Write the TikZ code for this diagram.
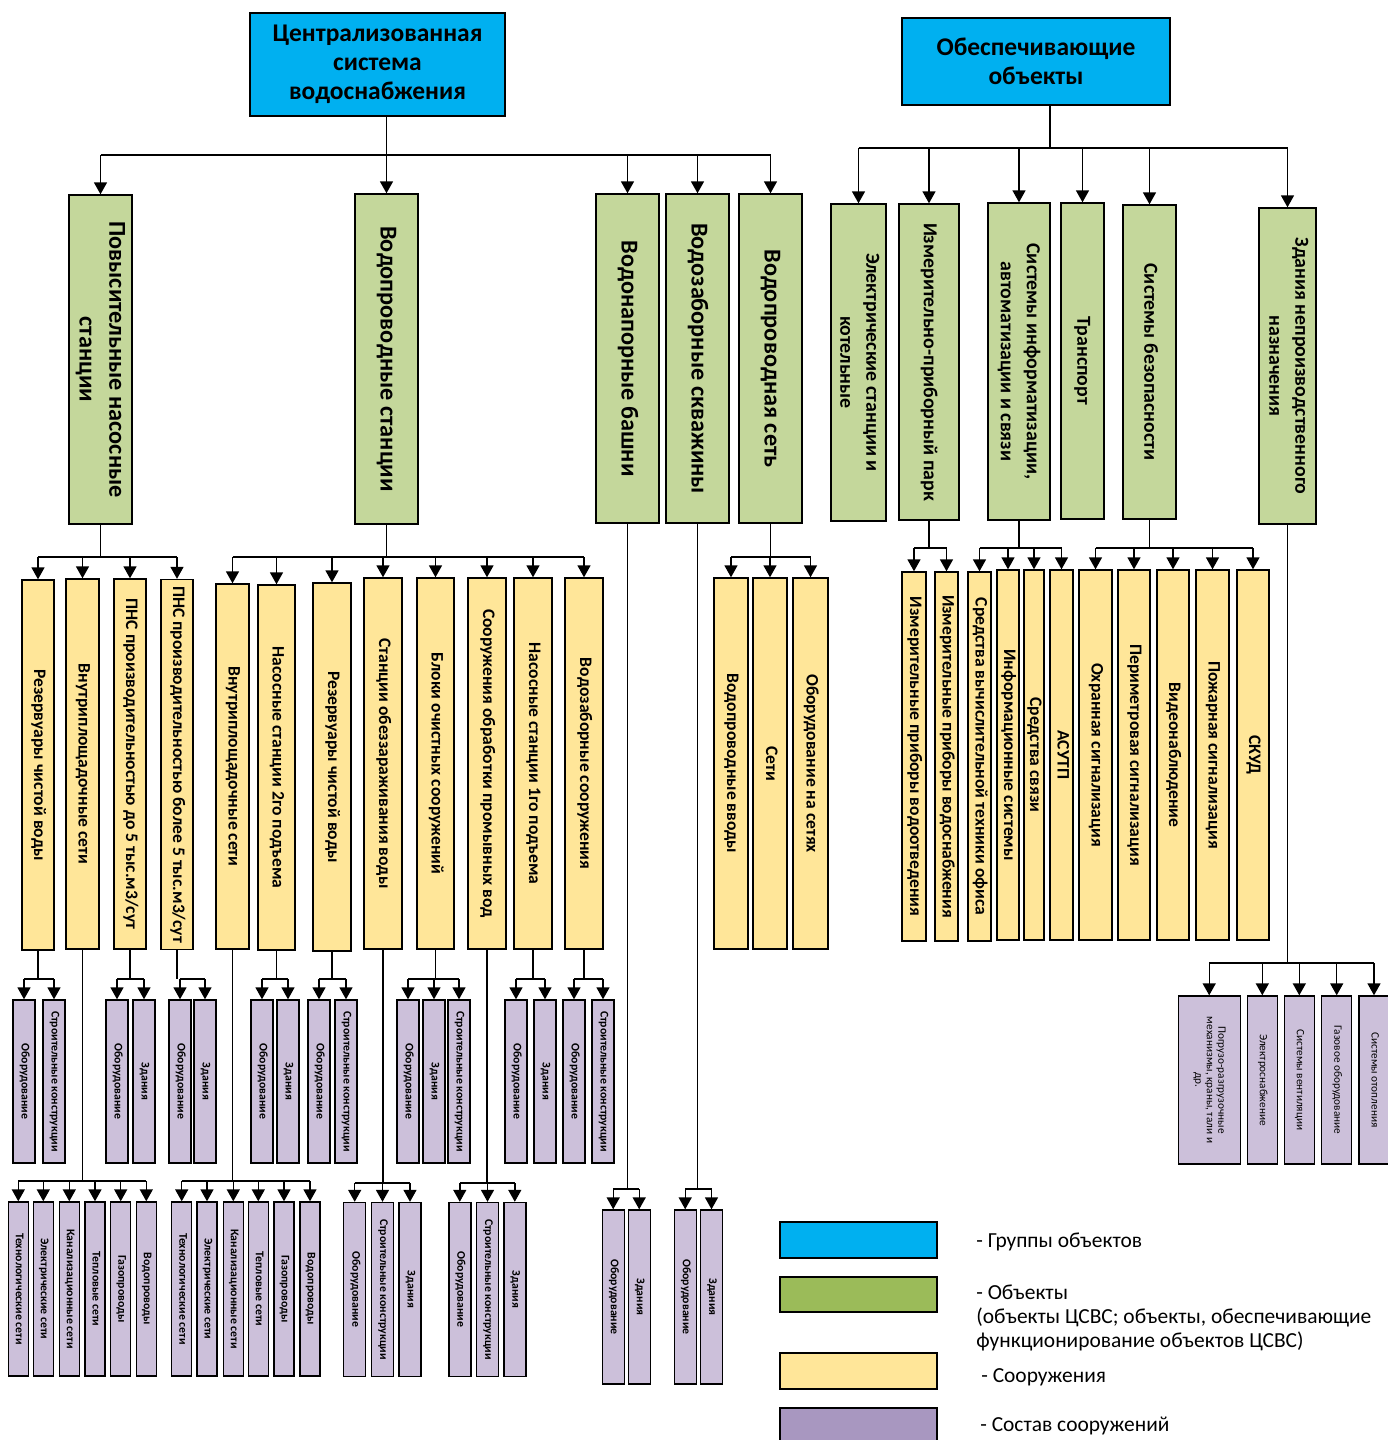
\documentclass[tikz,border=0pt]{standalone}
\usepackage{fontspec}
\setmainfont{Carlito}
\usetikzlibrary{arrows.meta}

\definecolor{grpblue}{HTML}{00B0F0}
\definecolor{objgreen}{HTML}{C4D79B}
\definecolor{soryellow}{HTML}{FFE699}
\definecolor{sostlilac}{HTML}{CCC0DA}
\definecolor{lggreen}{HTML}{9BBB59}
\definecolor{lglilac}{HTML}{A897C0}

\newcommand{\vt}[1]{\rotatebox{-90}{\begin{tabular}{@{}c@{}}#1\end{tabular}}}

\tikzset{
  box/.style={draw=black, line width=0.8pt, inner sep=0pt, rectangle},
  sz/.style 2 args={minimum width=#1*0.02cm, minimum height=#2*0.02cm},
  grp/.style={box, fill=grpblue, align=center, font=\bfseries\fontsize{14.5}{16.4}\selectfont},
  obj/.style={box, fill=objgreen, font=\bfseries\fontsize{13.8}{17}\selectfont},
  objr/.style={box, fill=objgreen, font=\bfseries\fontsize{11.3}{14.7}\selectfont},
  sor/.style={box, fill=soryellow, font=\bfseries\fontsize{10}{11}\selectfont},
  sost/.style={box, fill=sostlilac, font=\bfseries\fontsize{6.7}{6.8}\selectfont},
  sostr/.style={box, fill=sostlilac, font=\fontsize{6.4}{6.6}\selectfont},
  ln/.style={line width=0.8pt},
  arr/.style={ln, -{Triangle[width=7.4pt,length=6.8pt]}},
  lgtext/.style={anchor=west, inner sep=0pt, align=left, font=\fontsize{12.2}{13.9}\selectfont},
}

\begin{document}
\begin{tikzpicture}[x=0.02cm, y=-0.02cm]
\useasboundingbox (0,0) rectangle (1388,1440);

% groups
\node[grp, sz={255}{103}] (csv) at (377.5,64.5) {Централизованная\\система\\водоснабжения};
\node[grp, sz={268}{87}]  (ob)  at (1036,61.5)  {Обеспечивающие\\объекты};

% objects
\node[obj, sz={63}{329}] (pns)  at (100.5,359.5) {\vt{Повысительные насосные\\станции}};
\node[obj, sz={63}{330}] (vps)  at (386.5,359)   {\vt{Водопроводные станции}};
\node[obj, sz={63}{329}] (vb)   at (627.5,358.5) {\vt{Водонапорные башни}};
\node[obj, sz={63}{329}] (vsk)  at (697.5,358.5) {\vt{Водозаборные скважины}};
\node[obj, sz={63}{329}] (vset) at (770.5,358.5) {\vt{Водопроводная сеть}};

\node[objr, sz={55}{317}] (ek)  at (858.5,362.5) {\vt{Электрические станции и\\котельные}};
\node[objr, sz={60}{316}] (ipp) at (929,362)     {\vt{Измерительно-приборный парк}};
\node[objr, sz={62}{317}] (sia) at (1019,361.5)  {\vt{Системы информатизации,\\автоматизации и связи}};
\node[objr, sz={43}{316}] (tr)  at (1082.5,361)  {\vt{Транспорт}};
\node[objr, sz={53}{314}] (sb)  at (1149.5,362)  {\vt{Системы безопасности}};
\node[objr, sz={57}{316}] (zn)  at (1287.5,366)  {\vt{Здания непроизводственного\\назначения}};

\coordinate (bT) at (0,155);
\coordinate (bTR) at (1050,148);
\draw[ln] (csv.south -| vps.north) -- (vps.north |- bT);
\draw[ln] (pns.north |- bT) -- (vset.north |- bT);
\foreach \n in {pns,vps,vb,vsk,vset} \draw[arr] (\n.north |- bT) -- (\n.north);
\draw[ln] (ob.south -| bTR) -- (bTR);
\draw[ln] (ek.north |- bTR) -- (zn.north |- bTR);
\foreach \n in {ek,ipp,sia,tr,sb,zn} \draw[arr] (\n.north |- bTR) -- (\n.north);

% structures
\node[sor, sz={32}{370}] (res1) at (38,765)      {\vt{Резервуары чистой воды}};
\node[sor, sz={33}{370}] (vnp1) at (82.5,764)    {\vt{Внутриплощадочные сети}};
\node[sor, sz={32}{370}] (pnsa) at (130,764)     {\vt{ПНС производительностью до 5 тыс.м3/сут}};
\node[sor, sz={32}{370}] (pnsb) at (177,764.5)   {\vt{ПНС производительностью более 5 тыс.м3/сут}};
\node[sor, sz={33}{365}] (vnp2) at (232.5,766.5) {\vt{Внутриплощадочные сети}};
\node[sor, sz={37}{365}] (ns2)  at (276.5,767.5) {\vt{Насосные станции 2го подъема}};
\node[sor, sz={38}{368}] (res2) at (332,767)     {\vt{Резервуары чистой воды}};
\node[sor, sz={38}{371}] (sob)  at (383,763.5)   {\vt{Станции обеззараживания воды}};
\node[sor, sz={37}{371}] (boc)  at (435.5,763.5) {\vt{Блоки очистных сооружений}};
\node[sor, sz={38}{371}] (sop)  at (487,763.5)   {\vt{Сооружения обработки промывных вод}};
\node[sor, sz={38}{371}] (ns1)  at (533,763.5)   {\vt{Насосные станции 1го подъема}};
\node[sor, sz={38}{371}] (vzs)  at (584,763.5)   {\vt{Водозаборные сооружения}};
\node[sor, sz={34}{371}] (vv)   at (731,763.5)   {\vt{Водопроводные вводы}};
\node[sor, sz={34}{371}] (seti) at (770,763.5)   {\vt{Сети}};
\node[sor, sz={35}{371}] (obs)  at (810.5,763.5) {\vt{Оборудование на сетях}};

\node[sor, sz={24}{369}] (ipv)  at (914,756.5)   {\vt{Измерительные приборы водоотведения}};
\node[sor, sz={23}{369}] (ipvs) at (946.5,756.5) {\vt{Измерительные приборы водоснабжения}};
\node[sor, sz={23}{369}] (svt)  at (979.5,756.5) {\vt{Средства вычислительной техники офиса}};
\node[sor, sz={22}{370}] (isy)  at (1008,755)    {\vt{Информационные системы}};
\node[sor, sz={20}{370}] (ssv)  at (1034,755)    {\vt{Средства связи}};
\node[sor, sz={23}{370}] (asu)  at (1061.5,755)  {\vt{АСУТП}};
\node[sor, sz={33}{370}] (ohr)  at (1095.5,755)  {\vt{Охранная сигнализация}};
\node[sor, sz={32}{370}] (per)  at (1134,755)    {\vt{Периметровая сигнализация}};
\node[sor, sz={32}{370}] (vid)  at (1173,755)    {\vt{Видеонаблюдение}};
\node[sor, sz={33}{370}] (pozh) at (1212.5,755)  {\vt{Пожарная сигнализация}};
\node[sor, sz={32}{370}] (skud) at (1253,755)    {\vt{СКУД}};

\coordinate (bY) at (0,557);
\coordinate (bYR) at (0,548);
\foreach \p/\a/\b in {pns/res1/pnsb, vps/vnp2/vzs, vset/vv/obs} {
  \draw[ln] (\p.south) -- (\p.south |- bY);
  \draw[ln] (\a.north |- bY) -- (\b.north |- bY);
}
\foreach \n in {res1,vnp1,pnsa,pnsb,vnp2,ns2,res2,sob,boc,sop,ns1,vzs,vv,seti,obs}
  \draw[arr] (\n.north |- bY) -- (\n.north);
\foreach \p/\a/\b in {ipp/ipv/ipvs, sia/svt/asu, sb/ohr/skud} {
  \draw[ln] (\p.south) -- (\p.south |- bYR);
  \draw[ln] (\a.north |- bYR) -- (\b.north |- bYR);
}
\foreach \n in {ipv,ipvs,svt,isy,ssv,asu,ohr,per,vid,pozh,skud}
  \draw[arr] (\n.north |- bYR) -- (\n.north);

% composition, first row
\foreach \n/\x/\t in {r1a/24/Оборудование, r1b/54/Строительные конструкции,
    p5a/117/Оборудование, p5b/144/Здания, p6a/180/Оборудование, p6b/205/Здания,
    n2a/262/Оборудование, n2b/288/Здания, r2a/319/Оборудование, r2b/346/Строительные конструкции,
    boa/408/Оборудование, bob/434/Здания, boz/459/Строительные конструкции,
    n1a/516/Оборудование, n1b/545/Здания, vza/574/Оборудование, vzb/603/Строительные конструкции}
  \node[sost, sz={22}{163}] (\n) at (\x,1081.5) {\vt{\t}};

\coordinate (b1) at (0,979);
\foreach \p/\a/\b in {res1/r1a/r1b, pnsa/p5a/p5b, pnsb/p6a/p6b, ns2/n2a/n2b,
    res2/r2a/r2b, boc/boa/boz, ns1/n1a/n1b, vzs/vza/vzb} {
  \draw[ln] (\p.south) -- (\p.south |- b1);
  \draw[ln] (\a.north |- b1) -- (\b.north |- b1);
}
\foreach \n in {r1a,r1b,p5a,p5b,p6a,p6b,n2a,n2b,r2a,r2b,boa,bob,boz,n1a,n1b,vza,vzb}
  \draw[arr] (\n.north |- b1) -- (\n.north);

% composition, second row
\foreach \n/\x/\t in {v1a/18.3/Технологические сети, v1b/43.3/Электрические сети,
    v1c/69.3/Канализационные сети, v1d/95/Тепловые сети, v1e/120.7/Газопроводы, v1f/146.3/Водопроводы,
    v2a/181.7/Технологические сети, v2b/207/Электрические сети, v2c/233.3/Канализационные сети,
    v2d/258.3/Тепловые сети, v2e/284/Газопроводы, v2f/310/Водопроводы}
  \node[sost, sz={20}{174}] (\n) at (\x,1289) {\vt{\t}};
\foreach \n/\x/\t in {s1a/354.7/Оборудование, s1b/382.5/Строительные конструкции, s1c/410/Здания,
    s2a/459.8/Оборудование, s2b/487.5/Строительные конструкции, s2c/514.8/Здания}
  \node[sost, sz={22}{174}] (\n) at (\x,1289.5) {\vt{\t}};
\foreach \n/\x/\t in {t1a/613.2/Оборудование, t1b/639.2/Здания, t2a/685.2/Оборудование, t2b/711.5/Здания}
  \node[sost, sz={22}{174}] (\n) at (\x,1297) {\vt{\t}};

\coordinate (b2) at (0,1181);
\coordinate (b3) at (0,1183);
\coordinate (b4) at (0,1189);
\foreach \p/\a/\b/\c in {vnp1/v1a/v1f/b2, vnp2/v2a/v2f/b2, sob/s1a/s1c/b3, sop/s2a/s2c/b3,
    vb/t1a/t1b/b4, vsk/t2a/t2b/b4} {
  \draw[ln] (\p.south) -- (\p.south |- \c);
  \draw[ln] (\a.north |- \c) -- (\b.north |- \c);
}
\foreach \n in {v1a,v1b,v1c,v1d,v1e,v1f,v2a,v2b,v2c,v2d,v2e,v2f} \draw[arr] (\n.north |- b2) -- (\n.north);
\foreach \n in {s1a,s1b,s1c,s2a,s2b,s2c} \draw[arr] (\n.north |- b3) -- (\n.north);
\foreach \n in {t1a,t1b,t2a,t2b} \draw[arr] (\n.north |- b4) -- (\n.north);

% non-production buildings
\node[sostr, sz={62}{168}] (z1) at (1209.2,1080) {\vt{Погрузо-разгрузочные\\механизмы, краны, тали и\\др.}};
\node[sostr, sz={30}{168}] (z2) at (1262.3,1080) {\vt{Электроснабжение}};
\node[sostr, sz={30}{168}] (z3) at (1299.3,1080) {\vt{Системы вентиляции}};
\node[sostr, sz={30}{168}] (z4) at (1336.7,1080) {\vt{Газовое оборудование}};
\node[sostr, sz={30}{168}] (z5) at (1374,1080)   {\vt{Системы отопления}};
\coordinate (bZ) at (0,963);
\draw[ln] (zn.south) -- (zn.south |- bZ);
\draw[ln] (z1.north |- bZ) -- (z5.north |- bZ);
\foreach \n in {z1,z2,z3,z4,z5} \draw[arr] (\n.north |- bZ) -- (\n.north);

% -------- legend -----------
\node[box, fill=grpblue,   sz={157}{36}] (lg1) at (858.5,1240)   {};
\node[box, fill=lggreen,   sz={157}{35}] (lg2) at (858.5,1294.5) {};
\node[box, fill=soryellow, sz={157}{36}] (lg3) at (858.5,1371)   {};
\node[box, fill=lglilac,   sz={157}{36}] (lg4) at (858.5,1426)   {};
\node[lgtext] (lt1) at (976,1242)  {- Группы объектов};
\node[lgtext] (lt2) at (976,1318)  {- Объекты\\(объекты ЦСВС; объекты, обеспечивающие\\функционирование объектов ЦСВС)};
\node[lgtext] (lt3) at (981,1377)  {- Сооружения};
\node[lgtext] (lt4) at (980,1426)  {- Состав сооружений};
\end{tikzpicture}
\end{document}
